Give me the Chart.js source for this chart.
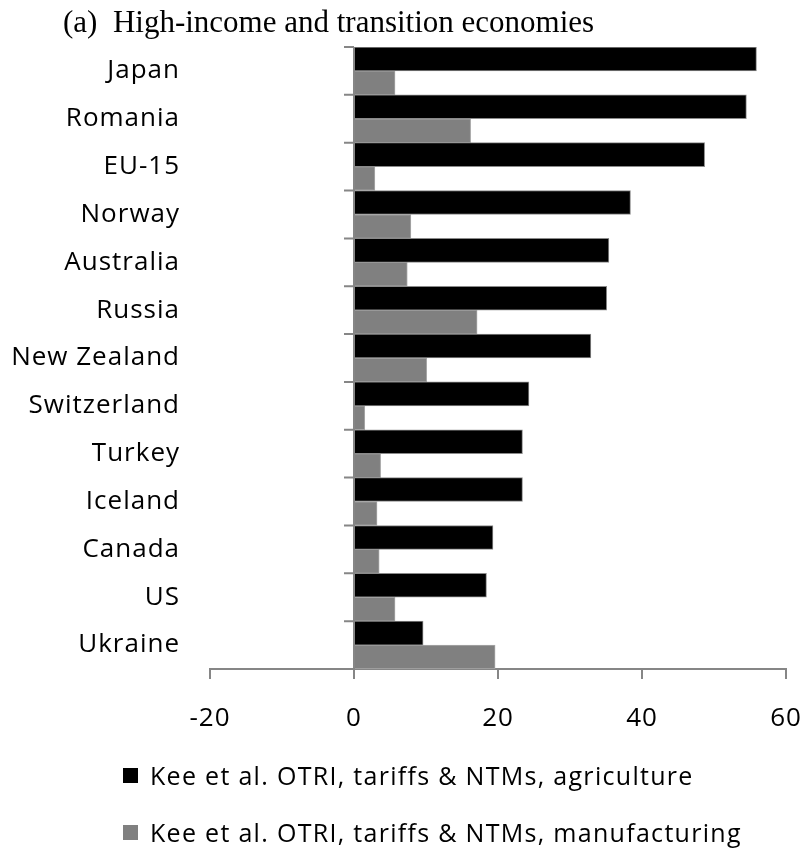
<!DOCTYPE html>
<html>
<head>
<meta charset="utf-8">
<script src="https://cdn.jsdelivr.net/npm/chart.js@4"></script>
<style>
  body { margin: 0; background: #fff; }
  .wrap { position: relative; width: 807px; height: 850px; }
  #chart { position: absolute; left: 0; top: 0; }
  .title {
    position: absolute; left: 63px; top: 6px; white-space: nowrap;
    font-family: "Liberation Serif", serif; font-size: 31px; line-height: 31px; color: #000;
  }
  .leg { position: absolute; left: 123px; white-space: nowrap; font-family: "Open Sans", sans-serif; font-size: 25px; line-height: 25px; letter-spacing: 1.3px; color: #000; }
  .leg .box { position: absolute; left: 0; top: 5px; width: 15px; height: 15px; }
  .leg .txt { position: absolute; left: 27px; top: 0; }
</style>
</head>
<body>
<div class="wrap">
  <canvas id="chart" width="807" height="850"></canvas>
  <div class="title">(a)&nbsp; High-income and transition economies</div>
  <div id="legend"></div>
</div>
<script>
// values
const countries = ['Japan', 'Romania', 'EU-15', 'Norway', 'Australia', 'Russia', 'New Zealand',
  'Switzerland', 'Turkey', 'Iceland', 'Canada', 'US', 'Ukraine'];
const agriculture = [55.9, 54.5, 48.7, 38.4, 35.4, 35.1, 32.9, 24.3, 23.4, 23.4, 19.3, 18.4, 9.6];
const manufacturing = [5.7, 16.2, 2.9, 7.9, 7.4, 17.1, 10.1, 1.5, 3.7, 3.2, 3.5, 5.7, 19.6];
const seriesNames = ['Kee et al. OTRI, tariffs & NTMs, agriculture', 'Kee et al. OTRI, tariffs & NTMs, manufacturing'];
const xTicks = [-20, 0, 20, 40, 60];

const axisGrey = '#868686';
const colors = ['#000000', '#808080'];

Chart.defaults.font.family = '"Open Sans", sans-serif';
Chart.defaults.font.size = 26;
Chart.defaults.color = '#000';

// y axis is drawn at x = 0, with tick marks between categories
const zeroAxisTicks = {
  id: 'zeroAxisTicks',
  beforeDraw(chart) {
    chart.ctx.letterSpacing = '1px';
  },
  afterDraw(chart) {
    const { ctx, scales: { x, y } } = chart;
    const x0 = x.getPixelForValue(0);
    const step = (y.bottom - y.top) / countries.length;
    ctx.save();
    ctx.strokeStyle = axisGrey;
    ctx.lineWidth = 2;
    ctx.beginPath();
    for (let i = 0; i < countries.length; i++) {
      const yy = y.top + i * step;
      ctx.moveTo(x0 - 10, yy);
      ctx.lineTo(x0, yy);
    }
    ctx.stroke();
    ctx.restore();
  }
};

new Chart(document.getElementById('chart'), {
  type: 'bar',
  data: {
    labels: countries,
    datasets: [
      { label: seriesNames[0], data: agriculture, backgroundColor: colors[0], borderColor: '#8a8a8a', borderWidth: 1 },
      { label: seriesNames[1], data: manufacturing, backgroundColor: colors[1], borderColor: '#a8a8a8', borderWidth: 1 }
    ]
  },
  options: {
    indexAxis: 'y',
    responsive: false,
    animation: false,
    layout: { padding: { top: 47, right: 0, left: 0, bottom: 0 } },
    datasets: { bar: { barPercentage: 1, categoryPercentage: 1 } },
    scales: {
      x: {
        min: -20, max: 60,
        afterBuildTicks: s => { s.ticks = xTicks.map(v => ({ value: v })); },
        afterFit: s => { s.height = 850 - 669; s.paddingLeft = 0; s.paddingRight = 21; },
        grid: {
          color: c => (c.tick && c.tick.value === 0 ? axisGrey : 'transparent'),
          lineWidth: 2,
          tickColor: axisGrey,
          tickLength: 10
        },
        border: { display: true, color: axisGrey, width: 2 },
        ticks: { padding: 24, font: { size: 26 } }
      },
      y: {
        afterFit: s => { s.width = 210; },
        grid: { display: false, drawTicks: false },
        border: { display: false },
        ticks: { padding: 30, font: { size: 26 } }
      }
    },
    plugins: { legend: { display: false }, tooltip: { enabled: false } }
  },
  plugins: [zeroAxisTicks]
});

// legend, one row per series
const legendEl = document.getElementById('legend');
seriesNames.forEach((name, i) => {
  const row = document.createElement('div');
  row.className = 'leg';
  row.style.top = (763 + i * 57) + 'px';
  row.innerHTML = `<span class="box" style="background:${colors[i]}"></span><span class="txt">${name.replace('&', '&amp;')}</span>`;
  legendEl.appendChild(row);
});
</script>
</body>
</html>
